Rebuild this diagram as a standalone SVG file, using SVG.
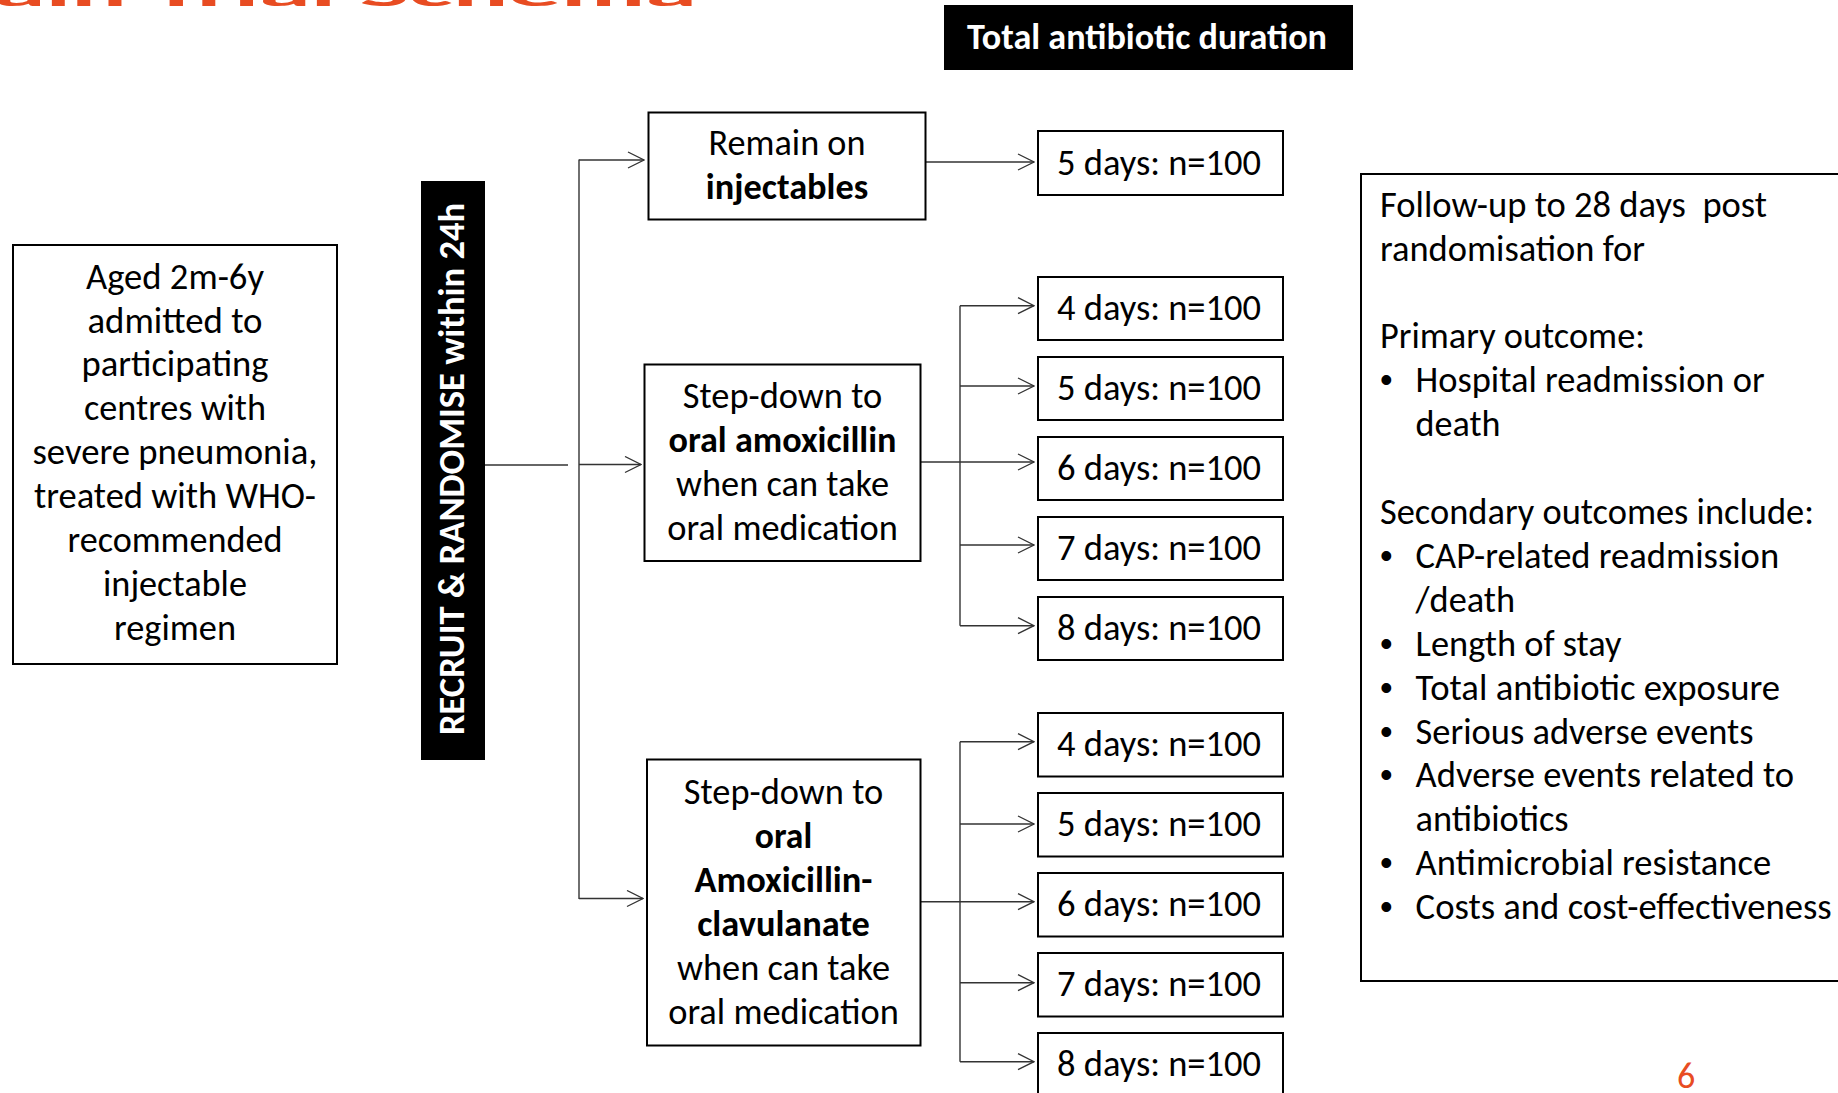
<svg xmlns="http://www.w3.org/2000/svg" width="1838" height="1093" viewBox="0 0 1838 1093">
<style>
  text { font-family: Carlito, Lato, "Liberation Sans", sans-serif; font-size: 36px; fill: #000; }
  .c { text-anchor: middle; }
  .b { font-weight: bold; }
  .w { fill: #fff; font-weight: bold; }
  .box { fill: #fff; stroke: #000; stroke-width: 2; }
  .blk { fill: #000; stroke: none; }
  .ln { fill: none; stroke: #333; stroke-width: 1.4; }
  .org { fill: #E84C22; }
  .bul { font-family: "Liberation Sans", Arial, sans-serif; }
</style>
<defs>
  <marker id="arr" viewBox="0 0 18 18" refX="17" refY="9" markerWidth="18" markerHeight="18" markerUnits="userSpaceOnUse" orient="auto">
    <path d="M1,1 L17,9 L1,17" fill="none" stroke="#333" stroke-width="1.3"/>
  </marker>
</defs>
<rect width="1838" height="1093" fill="#fff"/>

<g id="title">
  <text class="org b" x="-6" y="5.5" font-size="96" textLength="703" lengthAdjust="spacingAndGlyphs">ain Trial Schema</text>
</g>

<g id="connectors">
  <line class="ln" x1="485" y1="465" x2="568" y2="465"/>
  <line class="ln" x1="579" y1="159.5" x2="579" y2="899"/>
  <line class="ln" x1="579" y1="160" x2="644" y2="160" marker-end="url(#arr)"/>
  <line class="ln" x1="579" y1="464.5" x2="641" y2="464.5" marker-end="url(#arr)"/>
  <line class="ln" x1="579" y1="898.5" x2="643" y2="898.5" marker-end="url(#arr)"/>
  <line class="ln" x1="926" y1="162" x2="1034" y2="162" marker-end="url(#arr)"/>
  <line class="ln" x1="921" y1="462" x2="1034" y2="462" marker-end="url(#arr)"/>
  <line class="ln" x1="960" y1="305.7" x2="960" y2="625.7"/>
  <line class="ln" x1="960" y1="305.7" x2="1034" y2="305.7" marker-end="url(#arr)"/>
  <line class="ln" x1="960" y1="386" x2="1034" y2="386" marker-end="url(#arr)"/>
  <line class="ln" x1="960" y1="545" x2="1034" y2="545" marker-end="url(#arr)"/>
  <line class="ln" x1="960" y1="625.7" x2="1034" y2="625.7" marker-end="url(#arr)"/>
  <line class="ln" x1="921" y1="901.7" x2="1034" y2="901.7" marker-end="url(#arr)"/>
  <line class="ln" x1="960" y1="741.7" x2="960" y2="1061.7"/>
  <line class="ln" x1="960" y1="741.7" x2="1034" y2="741.7" marker-end="url(#arr)"/>
  <line class="ln" x1="960" y1="824" x2="1034" y2="824" marker-end="url(#arr)"/>
  <line class="ln" x1="960" y1="982.7" x2="1034" y2="982.7" marker-end="url(#arr)"/>
  <line class="ln" x1="960" y1="1061.7" x2="1034" y2="1061.7" marker-end="url(#arr)"/>
</g>

<g id="eligibility">
  <rect class="box" x="13" y="245" width="324" height="419"/>
  <text class="c" x="175" y="288.5" textLength="178" lengthAdjust="spacingAndGlyphs">Aged 2m-6y</text>
  <text class="c" x="175" y="332.5" textLength="175" lengthAdjust="spacingAndGlyphs">admitted to</text>
  <text class="c" x="175" y="376.4" textLength="187" lengthAdjust="spacingAndGlyphs">participating</text>
  <text class="c" x="175" y="420.4" textLength="182" lengthAdjust="spacingAndGlyphs">centres with</text>
  <text class="c" x="175" y="464.3" textLength="285" lengthAdjust="spacingAndGlyphs">severe pneumonia,</text>
  <text class="c" x="175" y="508.3" textLength="282" lengthAdjust="spacingAndGlyphs">treated with WHO-</text>
  <text class="c" x="175" y="552.2" textLength="215" lengthAdjust="spacingAndGlyphs">recommended</text>
  <text class="c" x="175" y="596.2" textLength="144" lengthAdjust="spacingAndGlyphs">injectable</text>
  <text class="c" x="175" y="640.1" textLength="122" lengthAdjust="spacingAndGlyphs">regimen</text>
</g>

<g id="randomise">
  <rect class="blk" x="421" y="181" width="64" height="579"/>
  <text class="w c" transform="translate(464,469) rotate(-90)" textLength="532" lengthAdjust="spacingAndGlyphs">RECRUIT &amp; RANDOMISE within 24h</text>
</g>

<g id="duration-header">
  <rect class="blk" x="944" y="5" width="409" height="65"/>
  <text class="w c" x="1147" y="49" textLength="360" lengthAdjust="spacingAndGlyphs">Total antibiotic duration</text>
</g>

<g id="arm-injectables">
  <rect class="box" x="648.5" y="112.5" width="277" height="107"/>
  <text class="c" x="787" y="155" textLength="157" lengthAdjust="spacingAndGlyphs">Remain on</text>
  <text class="c b" x="787" y="198.5" textLength="162.5" lengthAdjust="spacingAndGlyphs">injectables</text>
</g>

<g id="arm-amoxicillin">
  <rect class="box" x="644.5" y="364.5" width="276" height="196.5"/>
  <text class="c" x="782.5" y="408" textLength="199.5" lengthAdjust="spacingAndGlyphs">Step-down to</text>
  <text class="c b" x="782.5" y="452" textLength="228" lengthAdjust="spacingAndGlyphs">oral amoxicillin</text>
  <text class="c" x="782.5" y="496" textLength="213" lengthAdjust="spacingAndGlyphs">when can take</text>
  <text class="c" x="782.5" y="540" textLength="230.5" lengthAdjust="spacingAndGlyphs">oral medication</text>
</g>

<g id="arm-coamoxiclav">
  <rect class="box" x="647" y="759.5" width="273.5" height="286"/>
  <text class="c" x="783.5" y="803.7" textLength="199.5" lengthAdjust="spacingAndGlyphs">Step-down to</text>
  <text class="c b" x="783.5" y="847.7" textLength="57.3" lengthAdjust="spacingAndGlyphs">oral</text>
  <text class="c b" x="783.5" y="891.7" textLength="178" lengthAdjust="spacingAndGlyphs">Amoxicillin-</text>
  <text class="c b" x="783.5" y="935.7" textLength="172.7" lengthAdjust="spacingAndGlyphs">clavulanate</text>
  <text class="c" x="783.5" y="979.7" textLength="213" lengthAdjust="spacingAndGlyphs">when can take</text>
  <text class="c" x="783.5" y="1023.7" textLength="230.5" lengthAdjust="spacingAndGlyphs">oral medication</text>
</g>

<g id="inj-5d">
  <rect class="box" x="1038" y="131" width="245" height="64"/>
  <text class="c" x="1159" y="175" textLength="204" lengthAdjust="spacingAndGlyphs">5 days: n=100</text>
</g>

<g id="amox-4d">
  <rect class="box" x="1038" y="277" width="245" height="63"/>
  <text class="c" x="1159" y="320" textLength="204" lengthAdjust="spacingAndGlyphs">4 days: n=100</text>
</g>
<g id="amox-5d">
  <rect class="box" x="1038" y="357" width="245" height="63"/>
  <text class="c" x="1159" y="400" textLength="204" lengthAdjust="spacingAndGlyphs">5 days: n=100</text>
</g>
<g id="amox-6d">
  <rect class="box" x="1038" y="437" width="245" height="63"/>
  <text class="c" x="1159" y="480" textLength="204" lengthAdjust="spacingAndGlyphs">6 days: n=100</text>
</g>
<g id="amox-7d">
  <rect class="box" x="1038" y="517" width="245" height="63"/>
  <text class="c" x="1159" y="560" textLength="204" lengthAdjust="spacingAndGlyphs">7 days: n=100</text>
</g>
<g id="amox-8d">
  <rect class="box" x="1038" y="597" width="245" height="63"/>
  <text class="c" x="1159" y="640" textLength="204" lengthAdjust="spacingAndGlyphs">8 days: n=100</text>
</g>

<g id="coamox-4d">
  <rect class="box" x="1038" y="713" width="245" height="63.5"/>
  <text class="c" x="1159" y="756.3" textLength="204" lengthAdjust="spacingAndGlyphs">4 days: n=100</text>
</g>
<g id="coamox-5d">
  <rect class="box" x="1038" y="793" width="245" height="63.5"/>
  <text class="c" x="1159" y="836.3" textLength="204" lengthAdjust="spacingAndGlyphs">5 days: n=100</text>
</g>
<g id="coamox-6d">
  <rect class="box" x="1038" y="873" width="245" height="63.5"/>
  <text class="c" x="1159" y="916.3" textLength="204" lengthAdjust="spacingAndGlyphs">6 days: n=100</text>
</g>
<g id="coamox-7d">
  <rect class="box" x="1038" y="953" width="245" height="63.5"/>
  <text class="c" x="1159" y="996.3" textLength="204" lengthAdjust="spacingAndGlyphs">7 days: n=100</text>
</g>
<g id="coamox-8d">
  <rect class="box" x="1038" y="1033" width="245" height="63.5"/>
  <text class="c" x="1159" y="1076.3" textLength="204" lengthAdjust="spacingAndGlyphs">8 days: n=100</text>
</g>

<g id="outcomes">
  <rect class="box" x="1361" y="174" width="520" height="807"/>
  <text x="1380" y="216.7" xml:space="preserve" textLength="387" lengthAdjust="spacingAndGlyphs">Follow-up to 28 days  post</text>
  <text x="1380" y="260.6" textLength="265" lengthAdjust="spacingAndGlyphs">randomisation for</text>
  <text x="1380" y="348.4" textLength="265" lengthAdjust="spacingAndGlyphs">Primary outcome:</text>
  <text class="bul" x="1380" y="392.3">•</text>
  <text x="1415.6" y="392.3" textLength="349" lengthAdjust="spacingAndGlyphs">Hospital readmission or</text>
  <text x="1415.6" y="436.2" textLength="85" lengthAdjust="spacingAndGlyphs">death</text>
  <text x="1380" y="524" textLength="434" lengthAdjust="spacingAndGlyphs">Secondary outcomes include:</text>
  <text class="bul" x="1380" y="567.9">•</text>
  <text x="1415.6" y="567.9" textLength="363.5" lengthAdjust="spacingAndGlyphs">CAP-related readmission</text>
  <text x="1415.6" y="611.8" textLength="99.5" lengthAdjust="spacingAndGlyphs">/death</text>
  <text class="bul" x="1380" y="655.7">•</text>
  <text x="1415.6" y="655.7" textLength="206" lengthAdjust="spacingAndGlyphs">Length of stay</text>
  <text class="bul" x="1380" y="699.6">•</text>
  <text x="1415.6" y="699.6" textLength="364.5" lengthAdjust="spacingAndGlyphs">Total antibiotic exposure</text>
  <text class="bul" x="1380" y="743.5">•</text>
  <text x="1415.6" y="743.5" textLength="338" lengthAdjust="spacingAndGlyphs">Serious adverse events</text>
  <text class="bul" x="1380" y="787.4">•</text>
  <text x="1415.6" y="787.4" textLength="378.5" lengthAdjust="spacingAndGlyphs">Adverse events related to</text>
  <text x="1415.6" y="831.3" textLength="153" lengthAdjust="spacingAndGlyphs">antibiotics</text>
  <text class="bul" x="1380" y="875.2">•</text>
  <text x="1415.6" y="875.2" textLength="355.5" lengthAdjust="spacingAndGlyphs">Antimicrobial resistance</text>
  <text class="bul" x="1380" y="919.1">•</text>
  <text x="1415.6" y="919.1" textLength="416" lengthAdjust="spacingAndGlyphs">Costs and cost-effectiveness</text>
</g>

<g id="page-number">
  <text class="org" x="1686" y="1088" font-size="23" text-anchor="middle">6</text>
</g>
</svg>
